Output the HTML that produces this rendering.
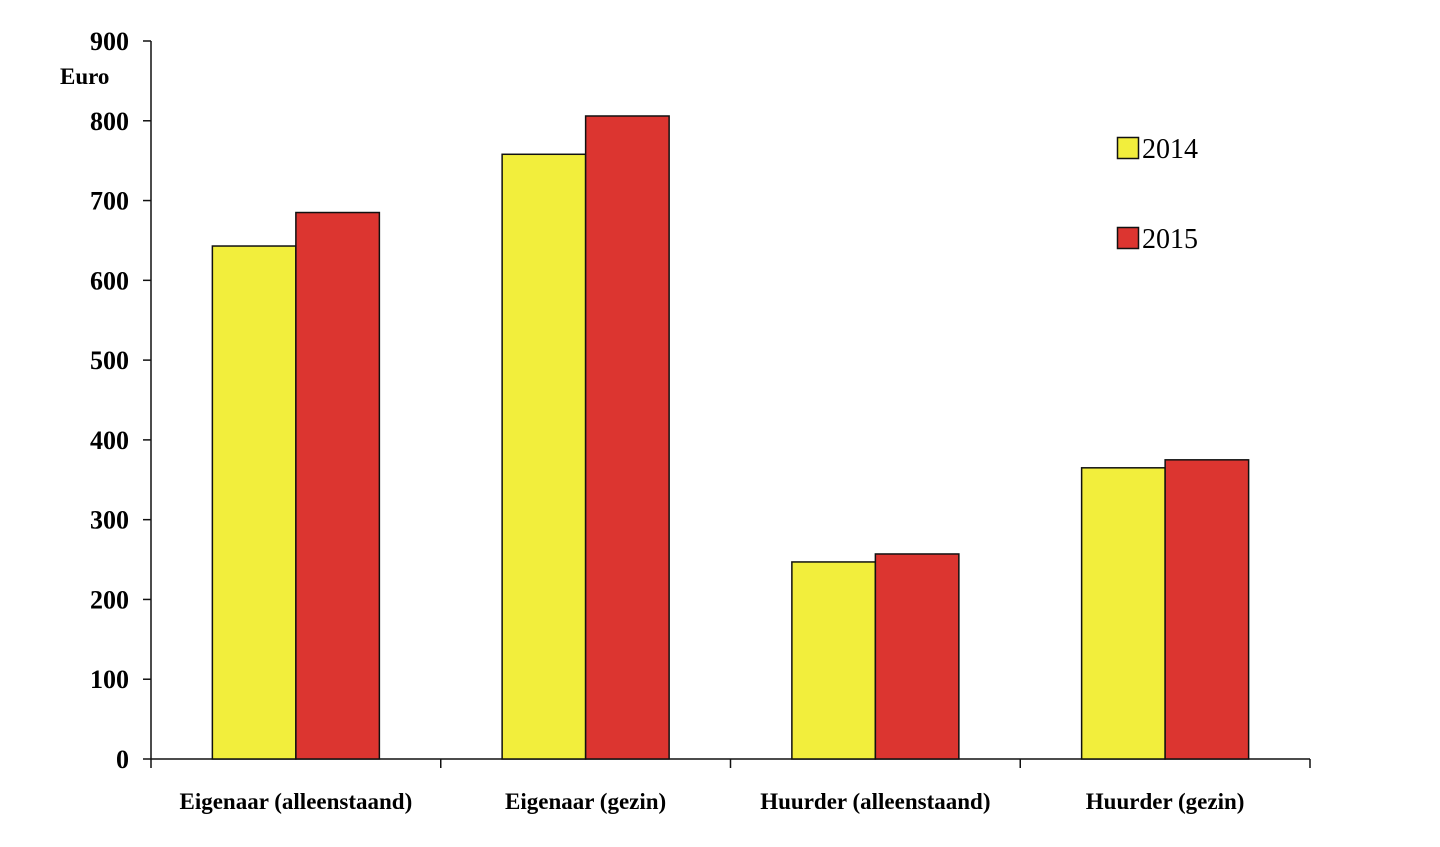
<!DOCTYPE html>
<html><head><meta charset="utf-8"><style>
html,body{margin:0;padding:0;background:#fff;}
svg{display:block;font-family:"Liberation Serif",serif;}
</style></head><body>
<svg id="chart" width="1440" height="847" viewBox="0 0 1440 847" xmlns="http://www.w3.org/2000/svg">
<rect x="0" y="0" width="1440" height="847" fill="#fff"/>
<g id="axes"></g>
<g id="bars"></g>
<text x="60" y="84" font-size="23" font-weight="bold">Euro</text>
<g>
<g>
<rect x="1117.5" y="137.5" width="21" height="21" fill="#f2ee3c" stroke="#111" stroke-width="1.5"/>
<text x="1142" y="158" font-size="28">2014</text></g>
<g>
<rect x="1117.5" y="227.5" width="21" height="21" fill="#dc3530" stroke="#111" stroke-width="1.5"/>
<text x="1142" y="248" font-size="28">2015</text></g>
</g>
</svg>
<script>
const categories = ["Eigenaar (alleenstaand)","Eigenaar (gezin)","Huurder (alleenstaand)","Huurder (gezin)"];
const values2014 = [643, 758, 247, 365];
const values2015 = [685, 806, 257, 375];
const yTicks = [0,100,200,300,400,500,600,700,800,900];

const NS="http://www.w3.org/2000/svg";
const x0=151, x1=1310, y0=759, yTop=41, yMax=900;
const catW=(x1-x0)/categories.length, barW=83.5;
const y=v=>y0-(v/yMax)*(y0-yTop);
function mk(tag,attrs,parent){const e=document.createElementNS(NS,tag);for(const k in attrs)e.setAttribute(k,attrs[k]);parent.appendChild(e);return e;}
const axes=document.getElementById('axes'), bars=document.getElementById('bars');
const yl=mk('line',{x1:x0,y1:yTop,x2:x0,y2:y0,stroke:'#111','stroke-width':1.5},axes);


const xl=mk('line',{x1:x0,y1:y0,x2:x1,y2:y0,stroke:'#111','stroke-width':1.5},axes);


yTicks.forEach(t=>{
  const tk=mk('line',{x1:x0-8,y1:y(t),x2:x0,y2:y(t),stroke:'#111','stroke-width':1.5},axes);
  
  
  const tx=mk('text',{x:x0-22,y:y(t)+9,'text-anchor':'end','font-size':26,'font-weight':'bold'},axes);
  tx.textContent=t;
  
  
});
for(let i=0;i<=categories.length;i++){
  const tk=mk('line',{x1:x0+i*catW,y1:y0,x2:x0+i*catW,y2:y0+9,stroke:'#111','stroke-width':1.5},axes);
  
  
}
categories.forEach((c,i)=>{
  const cx=x0+catW*(i+0.5);
  const tx=mk('text',{x:cx,y:809,'text-anchor':'middle','font-size':23,'font-weight':'bold'},axes);
  tx.textContent=c;
  
  
  const b1=mk('rect',{x:cx-barW,y:y(values2014[i]),width:barW,height:y0-y(values2014[i]),fill:'#f2ee3c',stroke:'#111','stroke-width':1.5},bars);
  
  
  const b2=mk('rect',{x:cx,y:y(values2015[i]),width:barW,height:y0-y(values2015[i]),fill:'#dc3530',stroke:'#111','stroke-width':1.5},bars);
  
  
});
</script>
</body></html>
